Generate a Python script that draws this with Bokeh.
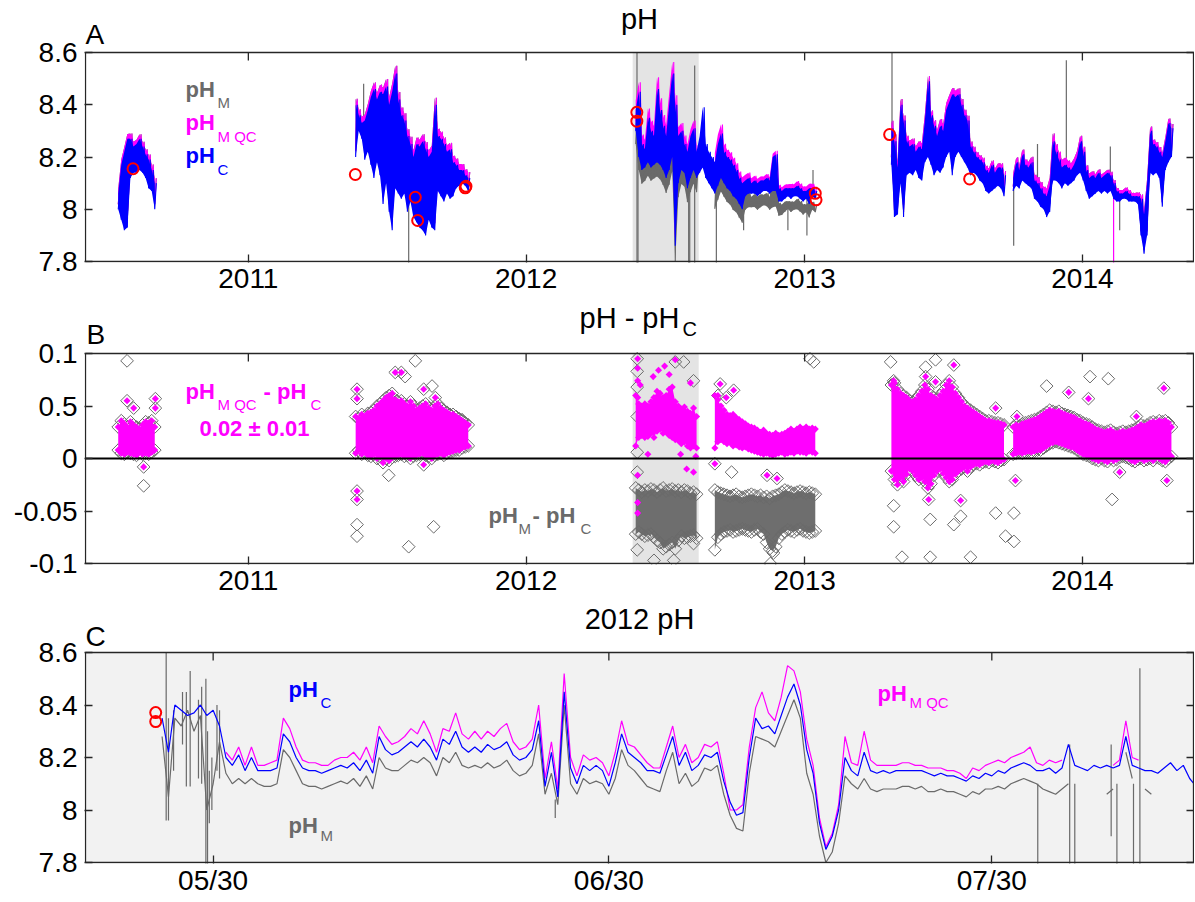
import math
import numpy as np
from bokeh.plotting import figure
from bokeh.layouts import column
from bokeh.models import Range1d, FixedTicker, LinearAxis, Label, BoxAnnotation
from bokeh.embed import file_html
from bokeh.resources import INLINE

nan = float("nan")
FONT = "Liberation Sans"
BLUE, MAG, GRAY, RED = "#0000ff", "#ff00ff", "#6a6a6a", "#ff0000"
FRAME = "#262626"
BOX_W = 1108   # width of each axes box, px

# ---------------- time axis: days since 2010-01-01 ----------------
YEAR_TICKS = [365, 730, 1096, 1461]
YEAR_LABELS = ["2011", "2012", "2013", "2014"]
DAY_2012 = 730                      # 2012-01-01
XR_AB = (151, 1607)
ZOOM_DAYS = (140, 226.8)            # panel C window, days of 2012
C_TICKS = [150, 181, 211]
C_TICK_LABELS = ["05/30", "06/30", "07/30"]
PH_RANGE = (7.8, 8.6)
PH_TICKS = [7.8, 8.0, 8.2, 8.4, 8.6]
PH_LABELS = ["7.8", "8", "8.2", "8.4", "8.6"]
D_RANGE = (-0.1, 0.1)
D_TICKS = [-0.1, -0.05, 0.0, 0.05, 0.1]
D_LABELS = ["-0.1", "-0.05", "0", "0.5", "0.1"]

STEP = 4  # days between samples in panels A/B

# ---- 2010 deployment (pH_C envelope, pH_MQC - pH_C envelope) ----
start_2010 = 194
c_lo_2010 = [8.00, 7.96, 7.92, 7.93, 8.12, 8.14, 8.14, 8.15, 8.14, 8.12, 8.08, 8.07, 8.00]
c_hi_2010 = [8.06, 8.17, 8.22, 8.27, 8.27, 8.24, 8.25, 8.27, 8.24, 8.21, 8.19, 8.15, 8.10]
qc_lo_2010 = [0.008, 0.005, 0.004, 0.006, 0.005, 0.004, 0.003, 0.006, 0.004, 0.005, 0.004, 0.006, 0.008]
qc_hi_2010 = [0.030, 0.036, 0.033, 0.030, 0.035, 0.032, 0.030, 0.028, 0.032, 0.035, 0.034, 0.036, 0.030]

# ---- 2011 deployment ----
start_2011 = 506
c_lo_2011 = [8.20, 8.30, 8.27, 8.19, 8.22, 8.17, 8.12, 8.18, 8.13, 8.02,
             8.10, 7.99, 7.92, 8.08, 8.06, 8.04, 8.06, 7.99, 8.03, 7.97,
             7.95, 7.93, 7.92, 7.90, 7.96, 7.93, 7.92, 8.07, 8.05, 8.03,
             8.06, 8.04, 8.05, 8.08, 8.09, 8.10, 8.09, 8.07]
c_hi_2011 = [8.40, 8.36, 8.33, 8.34, 8.38, 8.43, 8.46, 8.42, 8.45, 8.44,
             8.47, 8.40, 8.45, 8.52, 8.42, 8.36, 8.34, 8.28, 8.25, 8.20,
             8.25, 8.24, 8.26, 8.23, 8.20, 8.22, 8.40, 8.28, 8.27, 8.25,
             8.22, 8.23, 8.18, 8.17, 8.15, 8.15, 8.13, 8.12]
qc_lo_2011 = [0.005, 0.008, 0.004, 0.006, 0.003, 0.002, 0.004, 0.000, 0.002, -0.004,
              0.000, -0.002, 0.001, 0.002, 0.003, 0.004, 0.002, 0.003, 0.000, 0.002,
              0.003, 0.004, 0.005, 0.003, 0.002, 0.000, 0.003, 0.004, 0.005, 0.003,
              0.005, 0.006, 0.007, 0.008, 0.008, 0.010, 0.011, 0.012]
qc_hi_2011 = [0.040, 0.038, 0.042, 0.040, 0.043, 0.044, 0.046, 0.050, 0.052, 0.055,
              0.058, 0.060, 0.062, 0.056, 0.054, 0.055, 0.052, 0.050, 0.054, 0.050,
              0.046, 0.048, 0.050, 0.052, 0.048, 0.046, 0.050, 0.052, 0.048, 0.046,
              0.044, 0.042, 0.042, 0.040, 0.038, 0.036, 0.034, 0.032]

# ---- 2012 deployment (pH_M differs from pH_MQC here) ----
start_2012 = 874
c_lo_2012 = [8.30, 8.20, 8.15, 8.16, 8.18, 8.16, 8.17, 8.18, 8.17, 8.15,
             8.12, 8.15, 8.20, 7.86, 8.10, 8.15, 8.14, 8.08, 8.12, 8.15,
             8.12, 8.14, 8.16, 8.12, 8.10, 8.08, 8.06, 8.09, 8.12, 8.10,
             8.08, 8.07, 8.05, 8.04, 8.02, 8.00, 8.05, 8.06, 8.06, 8.06,
             8.05, 8.06, 8.07, 8.07, 8.06, 8.07, 8.07, 8.03, 8.03, 8.04,
             8.05, 8.04, 8.05, 8.05, 8.04, 8.03, 8.04, 8.02, 8.05, 8.04]
c_hi_2012 = [8.38, 8.45, 8.25, 8.23, 8.35, 8.30, 8.28, 8.46, 8.38, 8.32,
             8.28, 8.40, 8.52, 8.40, 8.28, 8.30, 8.25, 8.22, 8.28, 8.31,
             8.22, 8.28, 8.39, 8.25, 8.22, 8.20, 8.18, 8.25, 8.29, 8.22,
             8.20, 8.19, 8.17, 8.15, 8.12, 8.10, 8.11, 8.12, 8.10, 8.11,
             8.10, 8.11, 8.11, 8.12, 8.11, 8.20, 8.21, 8.08, 8.07, 8.08,
             8.08, 8.08, 8.08, 8.09, 8.08, 8.07, 8.07, 8.08, 8.08, 8.07]
qc_lo_2012 = [0.012, 0.020, 0.022, 0.020, 0.021, 0.024, 0.020, 0.026, 0.028, 0.024,
              0.025, 0.022, 0.020, 0.018, 0.017, 0.014, 0.016, 0.012, 0.010, 0.012,
              0.010, nan, nan, nan, nan, nan, 0.010, 0.016, 0.018, 0.016,
              0.014, 0.015, 0.012, 0.013, 0.011, 0.010, 0.011, 0.009, 0.008, 0.007,
              0.006, 0.005, 0.004, 0.005, 0.004, 0.003, 0.004, 0.005, 0.006, 0.004,
              0.005, 0.006, 0.005, 0.007, 0.006, 0.006, 0.005, 0.007, 0.006, 0.005]
qc_hi_2012 = [0.060, 0.052, 0.050, 0.052, 0.050, 0.054, 0.058, 0.064, 0.062, 0.058,
              0.060, 0.066, 0.068, 0.054, 0.050, 0.047, 0.049, 0.045, 0.043, 0.048,
              0.040, nan, nan, nan, nan, nan, 0.060, 0.056, 0.050, 0.046,
              0.042, 0.041, 0.042, 0.039, 0.037, 0.035, 0.033, 0.031, 0.030, 0.029,
              0.027, 0.025, 0.027, 0.024, 0.023, 0.022, 0.024, 0.022, 0.023, 0.024,
              0.026, 0.028, 0.026, 0.028, 0.030, 0.028, 0.030, 0.028, 0.029, 0.028]
m_lo_2012 = [-0.072, -0.070, -0.072, -0.074, -0.073, -0.072, -0.075, -0.078, -0.080, -0.086,
             -0.084, -0.082, -0.080, -0.086, -0.078, -0.074, -0.076, -0.075, -0.074, -0.073,
             -0.076, nan, nan, nan, nan, nan, -0.087, -0.075, -0.072, -0.070,
             -0.069, -0.068, -0.070, -0.069, -0.068, -0.067, -0.068, -0.069, -0.070, -0.068,
             -0.067, -0.070, -0.072, -0.080, -0.086, -0.088, -0.084, -0.076, -0.072, -0.070,
             -0.068, -0.069, -0.070, -0.068, -0.067, -0.069, -0.070, -0.071, -0.070, -0.069]
m_hi_2012 = [-0.028, -0.030, -0.032, -0.030, -0.031, -0.029, -0.030, -0.032, -0.030, -0.028,
             -0.031, -0.030, -0.029, -0.031, -0.030, -0.032, -0.030, -0.031, -0.033, -0.032,
             -0.034, nan, nan, nan, nan, nan, -0.030, -0.032, -0.033, -0.034,
             -0.035, -0.036, -0.035, -0.034, -0.036, -0.037, -0.036, -0.035, -0.034, -0.035,
             -0.036, -0.035, -0.037, -0.036, -0.038, -0.036, -0.035, -0.034, -0.032, -0.030,
             -0.031, -0.032, -0.033, -0.032, -0.031, -0.032, -0.033, -0.032, -0.033, -0.034]

# ---- 2013-2014 deployment ----
start_2013 = 1210
c_lo_2013 = [8.17, 7.97, 7.98, 8.10, 7.97, 8.13, 8.14, 8.13, 8.15, 8.12,
             8.11, 8.18, 8.20, 8.17, 8.13, 8.15, 8.14, 8.16, 8.20, 8.22,
             8.13, 8.20, 8.22, 8.20, 8.18, 8.16, 8.13, 8.14, 8.13, 8.11,
             8.10, 8.07, 8.06, 8.07, 8.08, 8.09, 8.08, 8.05, nan, nan,
             8.07, 8.09, 8.08, 8.11, 8.10, 8.09, 8.08, 8.04, 8.03, 8.01,
             8.00, 7.97, 7.99, 8.11, 8.11, 8.10, 8.08, 8.10, 8.09, 8.10,
             8.11, 8.13, 8.14, 8.11, 8.07, 8.04, 8.05, 8.06, 8.07, 8.06,
             8.07, 8.06, 8.07, 8.04, 8.03, 8.03, 8.04, 8.04, 8.03, 8.03,
             8.03, 8.02, 7.90, 7.83, 7.90, 8.14, 8.13, 8.14, 8.12, 8.01,
             8.15, 8.18, 8.20]
c_hi_2013 = [8.31, 8.26, 8.16, 8.40, 8.34, 8.26, 8.24, 8.25, 8.22, 8.24,
             8.23, 8.34, 8.49, 8.36, 8.32, 8.28, 8.32, 8.30, 8.38, 8.41,
             8.44, 8.43, 8.44, 8.40, 8.36, 8.34, 8.24, 8.22, 8.20, 8.19,
             8.18, 8.15, 8.14, 8.17, 8.14, 8.16, 8.16, 8.13, nan, nan,
             8.12, 8.18, 8.15, 8.21, 8.17, 8.16, 8.18, 8.11, 8.10, 8.08,
             8.06, 8.05, 8.09, 8.26, 8.22, 8.19, 8.16, 8.17, 8.16, 8.15,
             8.17, 8.20, 8.26, 8.22, 8.15, 8.12, 8.13, 8.12, 8.14, 8.12,
             8.13, 8.14, 8.13, 8.10, 8.07, 8.06, 8.06, 8.07, 8.06, 8.05,
             8.05, 8.05, 8.04, 7.98, 8.10, 8.30, 8.25, 8.24, 8.22, 8.20,
             8.26, 8.33, 8.31]
qc_lo_2013 = [-0.012, -0.020, -0.025, -0.018, -0.022, -0.015, -0.010, -0.012, -0.016, -0.020,
              -0.018, -0.022, -0.028, -0.024, -0.016, -0.012, -0.010, -0.014, -0.018, -0.022,
              -0.020, -0.015, -0.012, -0.010, -0.008, -0.012, -0.008, -0.006, -0.005, -0.006,
              -0.004, -0.003, -0.004, -0.002, -0.003, -0.004, -0.002, -0.001, nan, nan,
              0.004, 0.005, 0.006, 0.005, 0.006, 0.007, 0.006, 0.007, 0.008, 0.008,
              0.010, 0.012, 0.014, 0.015, 0.016, 0.015, 0.014, 0.013, 0.012, 0.011,
              0.010, 0.008, 0.006, 0.004, 0.003, 0.002, 0.000, -0.001, -0.002, 0.000,
              -0.002, -0.003, 0.000, -0.002, -0.001, 0.001, 0.002, 0.001, 0.000, -0.002,
              -0.003, -0.001, 0.000, -0.002, -0.001, 0.000, -0.002, 0.001, 0.000, -0.002,
              -0.003, 0.000, 0.002]
qc_hi_2013 = [0.070, 0.072, 0.066, 0.062, 0.060, 0.058, 0.055, 0.054, 0.056, 0.060,
              0.064, 0.070, 0.066, 0.060, 0.058, 0.056, 0.060, 0.064, 0.070, 0.074,
              0.068, 0.062, 0.058, 0.054, 0.050, 0.048, 0.046, 0.044, 0.042, 0.040,
              0.038, 0.036, 0.036, 0.035, 0.034, 0.034, 0.033, 0.032, nan, nan,
              0.030, 0.032, 0.031, 0.033, 0.034, 0.035, 0.036, 0.037, 0.038, 0.040,
              0.042, 0.044, 0.046, 0.045, 0.044, 0.045, 0.043, 0.042, 0.041, 0.040,
              0.039, 0.037, 0.036, 0.034, 0.033, 0.032, 0.030, 0.028, 0.027, 0.026,
              0.025, 0.026, 0.027, 0.025, 0.024, 0.025, 0.026, 0.025, 0.026, 0.027,
              0.028, 0.030, 0.032, 0.031, 0.032, 0.034, 0.035, 0.034, 0.036, 0.035,
              0.036, 0.034, 0.030]

# ---- discrete bottle samples (red circles): day, pH ----
sample_day = [213.5, 505.6, 584.4, 587.5, 650.0, 651.0, 875.5, 875.5, 1110.0, 1111.0, 1207.7, 1312.8]
sample_ph = [8.155, 8.133, 8.046, 7.957, 8.082, 8.088, 8.371, 8.337, 8.061, 8.036, 8.286, 8.116]

# ---- isolated pH_M spikes in panel A: day, low, high ----
spike_m_day = [516.5, 575.7, 875.7, 877.0, 943.6, 945.0, 951.5, 980.0, 1015.8, 1074.0, 1099.0, 1107.0,
               1210.8, 1370.7, 1402.0, 1439.9, 1497.7, 1510.0]
spike_m_lo = [8.30, 7.78, 7.78, 7.78, 7.78, 7.78, 7.78, 7.78, 7.92, 7.92, 7.90, 8.06,
              8.25, 7.86, 8.10, 8.17, 8.08, 7.92]
spike_m_hi = [8.48, 8.06, 8.60, 8.45, 8.15, 8.12, 8.55, 8.10, 8.06, 8.03, 8.07, 8.15,
              8.60, 8.08, 8.25, 8.57, 8.24, 8.05]
spike_qc_day = [1502.0]
spike_qc_lo = [7.78]
spike_qc_hi = [8.05]

# ---- outliers in panel B: day, difference ----
out_qc_day = [205.6, 214.3, 242.8, 242.8, 227.4, 507.8, 507.8, 507.8, 507.8, 558.0, 595.4, 610.7, 595.4, 566.0,
              876.6, 876.6, 876.6, 876.6, 876.6, 876.6, 876.6, 926.0, 904.0, 950.0, 985.0, 1002.7, 1046.6, 1059.7,
              880.0, 890.0, 897.0, 912.0, 918.0, 933.0, 941.0, 946.0, 953.0, 978.0, 982.0, 993.0,
              1292.0, 1255.0, 1268.0, 1213.0, 1347.0, 1375.0, 1443.0, 1469.0, 1259.0, 1301.0, 1373.0, 1510.0,
              1572.0, 1532.0, 1532.0, 1568.0]
out_qc_val = [0.055, 0.048, 0.057, 0.048, -0.008, 0.066, 0.057, -0.031, -0.039, 0.082, 0.066, 0.058, -0.006, 0.082,
              0.095, 0.086, 0.074, 0.058, -0.016, -0.042, -0.052, 0.094, 0.084, -0.013, 0.071, 0.065, -0.016, -0.019,
              0.070, 0.004, 0.078, 0.088, 0.080, 0.004, -0.010, 0.072, 0.002, -0.005, 0.060, 0.058,
              0.089, 0.078, 0.073, 0.074, 0.048, 0.040, 0.063, 0.057, -0.039, -0.040, -0.021, -0.013,
              -0.021, 0.040, 0.024, 0.067]
out_m_day = [205.6, 227.4, 507.8, 507.8, 584.4, 571.0, 606.4, 608.5, 575.7, 645.8, 549.4,
             876.0, 876.0, 876.0, 876.0, 876.0, 876.0, 876.0, 926.0, 937.0, 950.0, 898.0, 924.0, 950.0,
             1051.0, 1055.0, 1000.0, 1103.0, 1108.0,
             1209.0, 1213.0, 1213.0, 1224.0, 1261.0, 1314.0, 1261.0, 1292.0, 1301.0, 1347.0, 1371.0, 1360.0,
             1371.0, 1268.0, 1414.0, 1471.0, 1495.0, 1500.0, 1255.0]
out_m_val = [0.093, -0.026, -0.063, -0.074, 0.093, 0.078, 0.069, -0.065, -0.084, 0.037, -0.016,
             0.095, 0.083, 0.068, 0.040, 0.006, -0.013, -0.087, 0.092, 0.092, 0.074, -0.097, -0.097, -0.081,
             -0.100, -0.090, -0.013, 0.095, 0.092,
             0.092, -0.045, -0.065, -0.094, -0.094, -0.094, -0.058, -0.063, -0.055, -0.052, -0.052, -0.074,
             -0.079, 0.094, 0.069, 0.078, 0.076, -0.039, 0.087]

# ---- panel C: 2012 detail, every 0.5 day from day 146 of 2012 ----
c_start = 146.0
C_STEP = 0.5
ph_c_2012 = [8.35, 8.22, 8.40, 8.38, 8.36, 8.37, 8.40, 8.36, 8.38, 8.32,
             8.20, 8.17, 8.21, 8.15, 8.20, 8.15, 8.15, 8.15, 8.16, 8.29,
             8.26, 8.20, 8.16, 8.15, 8.15, 8.14, 8.15, 8.16, 8.17, 8.16,
             8.18, 8.15, 8.19, 8.14, 8.28, 8.23, 8.21, 8.22, 8.24, 8.26,
             8.24, 8.27, 8.24, 8.19, 8.27, 8.25, 8.30, 8.24, 8.22, 8.24,
             8.22, 8.25, 8.23, 8.24, 8.26, 8.21, 8.19, 8.20, 8.23, 8.34,
             8.09, 8.22, 8.05, 8.45, 8.16, 8.10, 8.17, 8.15, 8.17, 8.15,
             8.09, 8.18, 8.29, 8.22, 8.20, 8.18, 8.15, 8.15, 8.14, 8.21,
             8.28, 8.17, 8.22, 8.15, 8.17, 8.21, 8.20, 8.22, 8.11, 8.03,
             7.98, 7.99, 8.20, 8.35, 8.31, 8.32, 8.29, 8.36, 8.43, 8.48,
             8.40, 8.23, 8.14, 7.95, 7.85, 7.90, 8.00, 8.20, 8.15, 8.13,
             8.22, 8.15, 8.14, 8.15, 8.14, 8.15, 8.15, 8.15, 8.15, 8.15,
             8.14, 8.13, 8.14, 8.13, 8.13, 8.12, 8.11, 8.13, 8.12, 8.14,
             8.13, 8.15, 8.14, 8.16, 8.17, 8.18, 8.17, 8.15, 8.15, 8.16,
             8.14, 8.16, 8.25, 8.17, 8.16, 8.15, 8.17, 8.16, 8.17, 8.16,
             8.17, 8.28, 8.17, 8.16, 8.15, 8.15, 8.14, 8.16, 8.18, 8.15,
             8.17, 8.12, 8.09]
ph_mqc_2012 = [nan, nan, nan, nan, nan, nan, nan, nan, nan, nan,
               8.22, 8.19, 8.24, 8.17, 8.24, 8.17, 8.17, 8.18, 8.19, 8.35,
               8.31, 8.24, 8.19, 8.18, 8.18, 8.17, 8.17, 8.19, 8.20, 8.20,
               8.22, 8.19, 8.24, 8.18, 8.32, 8.28, 8.25, 8.26, 8.28, 8.31,
               8.29, 8.34, 8.29, 8.22, 8.31, 8.30, 8.37, 8.29, 8.27, 8.30,
               8.27, 8.30, 8.28, 8.31, 8.33, 8.26, 8.23, 8.24, 8.27, 8.40,
               8.12, 8.26, 8.08, 8.52, 8.20, 8.13, 8.21, 8.19, 8.20, 8.18,
               8.13, 8.22, 8.34, 8.25, 8.24, 8.21, 8.18, 8.16, 8.16, 8.24,
               8.32, 8.20, 8.25, 8.18, 8.20, 8.25, 8.24, 8.26, 8.14, 8.00,
               8.00, 8.02, 8.24, 8.39, 8.45, 8.37, 8.34, 8.43, 8.55, 8.53,
               8.45, 8.27, 8.17, 7.97, 7.86, 7.91, 8.02, 8.28, 8.18, 8.17,
               8.30, 8.19, 8.17, 8.17, 8.17, 8.17, 8.18, 8.18, 8.17, 8.17,
               8.16, 8.16, 8.16, 8.15, 8.15, 8.14, 8.12, 8.16, 8.15, 8.17,
               8.18, 8.19, 8.18, 8.20, 8.21, 8.22, 8.24, 8.18, 8.17, 8.19,
               8.18, 8.19, nan, nan, nan, nan, nan, nan, nan, 8.17,
               8.19, 8.34, 8.20, 8.19, nan, nan, nan, nan, nan, nan,
               nan, nan, nan]
ph_m_2012 = [8.28, 8.05, 8.35, 8.32, 8.38, 8.30, 8.36, 8.00, 8.10, 8.26,
             8.14, 8.10, 8.12, 8.10, 8.12, 8.10, 8.09, 8.09, 8.10, 8.23,
             8.20, 8.15, 8.10, 8.09, 8.09, 8.08, 8.09, 8.10, 8.11, 8.10,
             8.12, 8.09, 8.13, 8.08, 8.20, 8.16, 8.15, 8.15, 8.17, 8.19,
             8.18, 8.20, 8.18, 8.13, 8.20, 8.18, 8.22, 8.17, 8.16, 8.17,
             8.16, 8.18, 8.16, 8.17, 8.19, 8.15, 8.13, 8.14, 8.17, 8.29,
             8.06, 8.14, 8.02, 8.40, 8.10, 8.06, 8.12, 8.10, 8.11, 8.10,
             8.06, 8.12, 8.23, 8.17, 8.15, 8.12, 8.09, 8.08, 8.07, 8.15,
             8.22, 8.10, 8.14, 8.09, 8.11, 8.16, 8.15, 8.17, 8.06, 7.98,
             7.93, 7.92, 8.14, 8.28, 8.27, 8.26, 8.24, 8.30, 8.36, 8.42,
             8.35, 8.14, 8.06, 7.90, 7.80, 7.84, 7.95, 8.13, 8.10, 8.08,
             8.12, 8.08, 8.07, 8.08, 8.08, 8.08, 8.09, 8.09, 8.08, 8.09,
             8.07, 8.07, 8.08, 8.07, 8.07, 8.06, 8.05, 8.07, 8.06, 8.08,
             8.08, 8.09, 8.08, 8.10, 8.11, 8.12, 8.11, 8.10, 8.08, 8.07,
             8.06, 8.08, 8.10, nan, nan, nan, nan, nan, 8.06, 8.08,
             nan, 8.22, 8.12, nan, 8.08, 8.06, nan, nan, nan, nan,
             nan, nan, nan]
# pH_M spikes in panel C: day of 2012, low, high
c_spike_day = [146.32, 146.5, 146.9, 147.6, 147.9, 148.2, 148.85, 149.1, 149.43, 149.56, 149.7, 149.9,
               150.3, 150.5, 176.8, 214.6, 217.1, 217.5, 220.35, 220.8, 222.1, 222.6]
c_spike_lo = [7.96, 7.96, 8.15, 8.25, 8.09, 8.09, 8.12, 8.10, 7.78, 7.78, 7.95, 8.00,
              8.15, 8.12, 7.97, 7.78, 7.78, 7.78, 7.90, 7.78, 7.78, 7.78]
c_spike_hi = [8.60, 8.35, 8.38, 8.45, 8.45, 8.53, 8.42, 8.47, 8.50, 8.30, 8.15, 8.20,
              8.40, 8.38, 8.04, 8.10, 8.25, 8.10, 8.25, 8.10, 8.10, 8.54]


# ---------------- helpers ----------------
def arr(a):
    return np.array(a, dtype=float)


def runs(x, lo, hi):
    """contiguous stretches without gaps"""
    out, cur = [], ([], [], [])
    for xi, a, b in zip(x, lo, hi):
        if np.isnan(a) or np.isnan(b):
            if cur[0]:
                out.append(cur)
            cur = ([], [], [])
        else:
            cur[0].append(xi); cur[1].append(a); cur[2].append(b)
    if cur[0]:
        out.append(cur)
    return out


def zigzag(start, lo, hi, step=STEP):
    xs, ys = [], []
    for i, (a, b) in enumerate(zip(lo, hi)):
        x = start + step * i
        xs += [x, x + step / 2.0]
        ys += [a, b]
    return xs, ys


def trace(p, start, lo, hi, color):
    x = [start + STEP * i for i in range(len(lo))]
    for xs, a, b in runs(x, lo, hi):
        p.varea(x=xs, y1=a, y2=b, fill_color=color)
    xs, ys = zigzag(start, lo, hi)
    p.line(xs, ys, line_color=color, line_width=1.1)


class Panel:
    """One subplot. The Bokeh frame also holds the strip above the axes box (title area)."""

    def __init__(self, xr, yr, top_px, box_h, bottom_px, xt, xl, yt, yl, xstand):
        self.xr, self.yr = xr, yr
        ux = (xr[1] - xr[0]) / BOX_W
        uy = (yr[1] - yr[0]) / box_h
        self.uy = uy
        p = figure(frame_width=BOX_W + 2, frame_height=top_px + box_h + 1,
                   x_range=Range1d(xr[0] - ux, xr[1] + ux),
                   y_range=Range1d(yr[0] - uy, yr[1] + top_px * uy),
                   min_border_left=84, min_border_right=0, min_border_top=0, min_border_bottom=bottom_px,
                   title=None, output_backend="svg", toolbar_location=None,
                   background_fill_color="white", border_fill_color="white")
        p.outline_line_color = None
        p.grid.visible = False
        p.xaxis.ticker = FixedTicker(ticks=xt)
        p.xaxis.major_label_overrides = {t: s for t, s in zip(xt, xl)}
        p.yaxis.ticker = FixedTicker(ticks=yt)
        p.yaxis.major_label_overrides = {t: s for t, s in zip(yt, yl)}
        right = LinearAxis(ticker=FixedTicker(ticks=yt), major_label_overrides={t: "" for t in yt},
                           major_label_text_font_size="0px", major_label_standoff=0)
        p.add_layout(right, "right")
        for ax in list(p.xaxis) + list(p.yaxis):
            ax.major_tick_in = 8
            ax.major_tick_out = 0
            ax.minor_tick_line_color = None
            ax.axis_line_color = None
            ax.major_tick_line_color = FRAME
            ax.major_tick_line_width = 1.3
            ax.major_label_text_font = FONT
            ax.major_label_text_font_size = "28px"
            ax.major_label_text_color = "black"
        right.major_label_text_font_size = "0px"
        p.xaxis.major_label_standoff = xstand
        p.yaxis[0].major_label_standoff = 7
        self.p = p
        self.xt = xt

    def finish(self):
        p, (x0, x1), (y0, y1) = self.p, self.xr, self.yr
        n = len(self.xt)
        p.segment(x0=self.xt, y0=[y1] * n, x1=self.xt, y1=[y1 - 8 * self.uy] * n,
                  line_color=FRAME, line_width=1.3)
        p.quad(left=[x0], right=[x1], bottom=[y0], top=[y1], fill_color=None,
               line_color=FRAME, line_width=1.3)

    def text(self, s, dx, dy, size, color="black", bold=False, align="left", x=None):
        # dy: baseline position in px above (+) / below (-) the top edge of the axes box
        self.p.add_layout(Label(x=self.xr[0] if x is None else x, y=self.yr[1], x_offset=dx,
                                y_offset=dy + round(0.33 * size),
                                text=s, text_font=FONT, text_font_size=f"{size}px", text_color=color,
                                text_font_style="bold" if bold else "normal",
                                text_align=align, text_baseline="alphabetic"))


segments = [
    (start_2010, arr(c_lo_2010), arr(c_hi_2010), arr(qc_lo_2010), arr(qc_hi_2010), arr(qc_lo_2010), arr(qc_hi_2010)),
    (start_2011, arr(c_lo_2011), arr(c_hi_2011), arr(qc_lo_2011), arr(qc_hi_2011), arr(qc_lo_2011), arr(qc_hi_2011)),
    (start_2012, arr(c_lo_2012), arr(c_hi_2012), arr(qc_lo_2012), arr(qc_hi_2012), arr(m_lo_2012), arr(m_hi_2012)),
    (start_2013, arr(c_lo_2013), arr(c_hi_2013), arr(qc_lo_2013), arr(qc_hi_2013), arr(qc_lo_2013), arr(qc_hi_2013)),
]
zoom_left = DAY_2012 + ZOOM_DAYS[0]
zoom_right = DAY_2012 + ZOOM_DAYS[1]
mid_ab = (XR_AB[0] + XR_AB[1]) / 2.0

# ================= Panel A =================
A = Panel(XR_AB, PH_RANGE, 52, 209, 38, YEAR_TICKS, YEAR_LABELS, PH_TICKS, PH_LABELS, 6)
pA = A.p
pA.add_layout(BoxAnnotation(left=zoom_left, right=zoom_right, bottom=PH_RANGE[0], top=PH_RANGE[1],
                            fill_color="#e4e4e4", fill_alpha=1.0, line_color=None, level="underlay"))
pA.segment(x0=spike_m_day, y0=spike_m_lo, x1=spike_m_day, y1=spike_m_hi, line_color=GRAY, line_width=1.2)
pA.segment(x0=spike_qc_day, y0=spike_qc_lo, x1=spike_qc_day, y1=spike_qc_hi, line_color=MAG, line_width=1.2)
for start, clo, chi, qlo, qhi, mlo, mhi in segments:
    qmid = (qlo + qhi) / 2.0
    mmid = (mlo + mhi) / 2.0
    trace(pA, start, clo + mmid, chi + mmid, GRAY)
    trace(pA, start, clo + qmid, chi + qmid, MAG)
    trace(pA, start, clo, chi, BLUE)
pA.scatter(sample_day, sample_ph, marker="circle", size=11, fill_color=None, line_color=RED, line_width=2)
A.finish()
A.text("A", 0, 9, 28)
A.text("pH", 0, 24, 29, align="center", x=mid_ab)
A.text("pH", 100, -44, 22, GRAY, bold=True)
A.text("M", 132, -55, 15, GRAY)
A.text("pH", 100, -77, 22, MAG, bold=True)
A.text("M QC", 132, -89, 15, MAG)
A.text("pH", 100, -110, 22, BLUE, bold=True)
A.text("C", 132, -122, 15, BLUE)

# ================= Panel B =================
B = Panel(XR_AB, D_RANGE, 53, 210, 38, YEAR_TICKS, YEAR_LABELS, D_TICKS, D_LABELS, 6)
pB = B.p
pB.add_layout(BoxAnnotation(left=zoom_left, right=zoom_right, bottom=D_RANGE[0], top=D_RANGE[1],
                            fill_color="#e4e4e4", fill_alpha=1.0, line_color=None, level="underlay"))
for k, (start, clo, chi, qlo, qhi, mlo, mhi) in enumerate(segments):
    x = [start + STEP * i for i in range(len(qlo))]
    if k == 2:
        for xs, a, b in runs(x, mlo, mhi):
            pB.varea(x=xs, y1=a, y2=b, fill_color="#6e6e6e")
    pB.scatter(x + x, list(mlo) + list(mhi), marker="square", angle=math.pi / 4, size=9,
               fill_color=None, line_color=GRAY, line_width=1)
gray_extra = [v if (d > zoom_right or d < zoom_left) else nan for d, v in zip(out_qc_day, out_qc_val)]
pB.scatter(out_m_day + out_qc_day, out_m_val + gray_extra,
           marker="square", angle=math.pi / 4, size=9, fill_color=None, line_color=GRAY, line_width=1)
for k, (start, clo, chi, qlo, qhi, mlo, mhi) in enumerate(segments):
    x = [start + STEP * i for i in range(len(qlo))]
    for xs, a, b in runs(x, qlo, qhi):
        pB.varea(x=xs, y1=a, y2=b, fill_color=MAG, fill_alpha=1.0)
    pB.scatter(x + x, list(qlo) + list(qhi), marker="square", angle=math.pi / 4, size=5,
               fill_color=MAG, line_color=None)
pB.scatter(out_qc_day, out_qc_val, marker="square", angle=math.pi / 4, size=5, fill_color=MAG, line_color=None)
pB.segment(x0=[XR_AB[0]], y0=[0], x1=[XR_AB[1]], y1=[0], line_color="black", line_width=2)
B.finish()
B.text("B", 1, 10, 28)
B.text("pH - pH", 494, 26, 29)
B.text("C", 597, 18, 20)
B.text("pH", 100, -45, 22, MAG, bold=True)
B.text("M QC", 132, -56, 15, MAG)
B.text("- pH", 178, -45, 22, MAG, bold=True)
B.text("C", 225, -56, 15, MAG)
B.text("0.02 \u00b1 0.01", 169, -82, 22, MAG, bold=True, align="center")
B.text("pH", 403, -169, 22, GRAY, bold=True)
B.text("M", 433, -180, 15, GRAY)
B.text("- pH", 447, -169, 22, GRAY, bold=True)
B.text("C", 495, -180, 15, GRAY)

# ================= Panel C =================
C = Panel(ZOOM_DAYS, PH_RANGE, 50, 210, 34, C_TICKS, C_TICK_LABELS, PH_TICKS, PH_LABELS, 1)
pC = C.p
pC.add_layout(BoxAnnotation(left=ZOOM_DAYS[0], right=ZOOM_DAYS[1], bottom=PH_RANGE[0], top=PH_RANGE[1],
                            fill_color="#f2f2f2", fill_alpha=1.0, line_color=None, level="underlay"))
xc_c = [c_start + C_STEP * i for i in range(len(ph_c_2012))]
xc_q = [c_start + C_STEP * i for i in range(len(ph_mqc_2012))]
xc_m = [c_start + C_STEP * i for i in range(len(ph_m_2012))]
pC.line(xc_m, ph_m_2012, line_color=GRAY, line_width=1.2)
pC.segment(x0=c_spike_day, y0=c_spike_lo, x1=c_spike_day, y1=c_spike_hi, line_color=GRAY, line_width=1.2)
pC.line(xc_q, ph_mqc_2012, line_color=MAG, line_width=1.2)
pC.line(xc_c, ph_c_2012, line_color=BLUE, line_width=1.2)
cd = [d - DAY_2012 for d in sample_day if zoom_left <= d <= zoom_right]
cv = [v for d, v in zip(sample_day, sample_ph) if zoom_left <= d <= zoom_right]
pC.scatter(cd, cv, marker="circle", size=11, fill_color=None, line_color=RED, line_width=2)
C.finish()
C.text("C", 0, 7, 28)
C.text("2012 pH", 0, 24, 29, align="center", x=(ZOOM_DAYS[0] + ZOOM_DAYS[1]) / 2.0)
C.text("pH", 203, -44, 22, BLUE, bold=True)
C.text("C", 235, -55, 15, BLUE)
C.text("pH", 203, -180, 22, GRAY, bold=True)
C.text("M", 235, -188, 15, GRAY)
C.text("pH", 792, -48, 22, MAG, bold=True)
C.text("M QC", 824, -55, 15, MAG)

layout = column(pA, pB, pC)
open("out.html", "w").write(file_html(layout, INLINE))
